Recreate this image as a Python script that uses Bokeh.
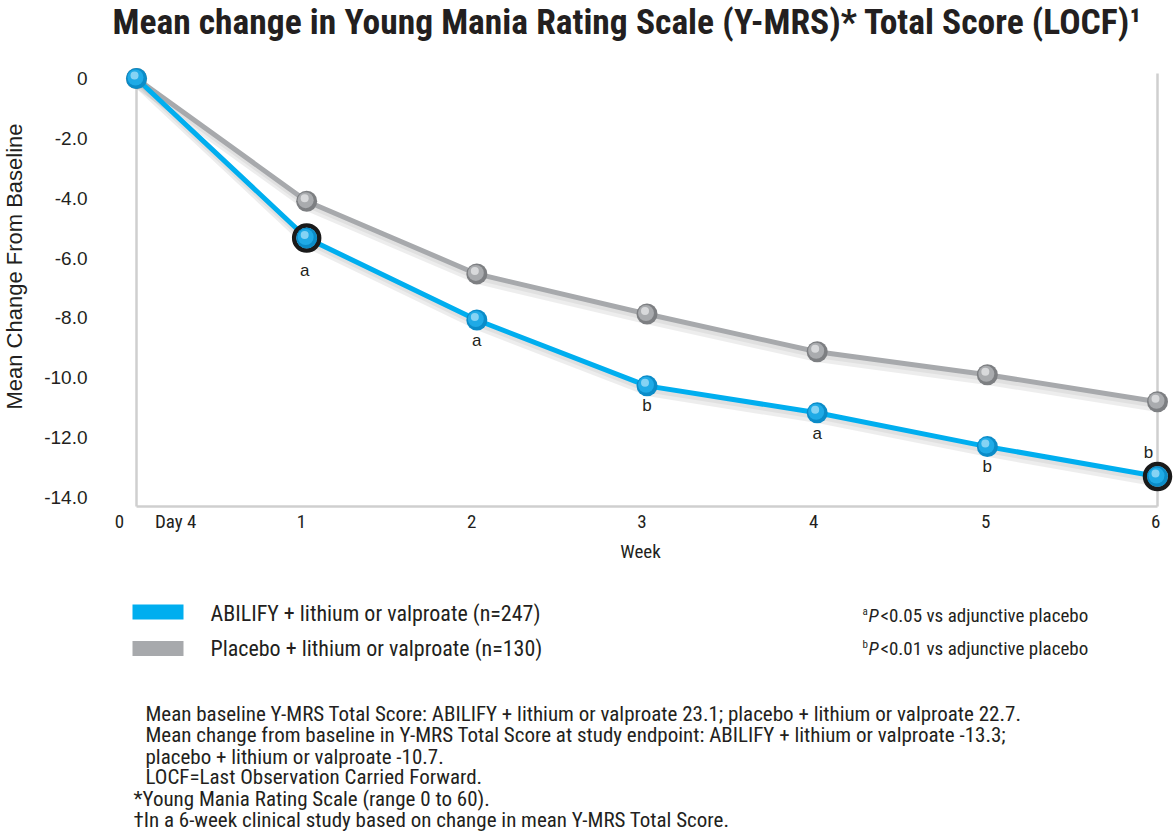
from bokeh.plotting import figure
from bokeh.models import Label
from bokeh.core.properties import value
from bokeh.embed import file_html
from bokeh.resources import INLINE

# ---- data ----
weeks = [0, 1, 2, 3, 4, 5, 6]
abilify = [0, -5.33, -8.07, -10.27, -11.17, -12.3, -13.3]
placebo = [0, -4.1, -6.53, -7.87, -9.13, -9.9, -10.8]
sig_weeks = [1, 2, 3, 4, 5, 6]
sig_letters = ["a", "a", "b", "a", "b", "b"]
ring_weeks = [1, 6]
x_tick_pos = [-0.1, 0.23, 0.97, 1.97, 2.97, 3.98, 4.99, 5.99]
x_tick_labels = ["0", "Day 4", "1", "2", "3", "4", "5", "6"]
y_ticks = [0, -2, -4, -6, -8, -10, -12, -14]
y_tick_labels = ["0", "-2.0", "-4.0", "-6.0", "-8.0", "-10.0", "-12.0", "-14.0"]
legend_names = ["ABILIFY + lithium or valproate (n=247)",
                "Placebo + lithium or valproate (n=130)"]
title_text = "Mean change in Young Mania Rating Scale (Y-MRS)* Total Score (LOCF)\u00b9"
footnotes = [
    "Mean baseline Y-MRS Total Score: ABILIFY + lithium or valproate 23.1; placebo + lithium or valproate 22.7.",
    "Mean change from baseline in Y-MRS Total Score at study endpoint: ABILIFY + lithium or valproate -13.3;",
    "placebo + lithium or valproate -10.7.",
    "LOCF=Last Observation Carried Forward.",
]
footnotes2 = [
    "*Young Mania Rating Scale (range 0 to 60).",
    "\u2020In a 6-week clinical study based on change in mean Y-MRS Total Score.",
]

BLUE = "#00AEEF"
GREY = "#A7A9AC"
TXT = "#231F20"
NARROW = "Roboto Condensed, DejaVu Sans Condensed, Roboto"
REG = "Liberation Sans"

W, H = 1175, 833
PXX = (1157 - 136) / 6.0
PXY = (497 - 78) / 14.0
X0, X1 = -136 / PXX, (W - 136) / PXX
Y1, Y0 = 78 / PXY, -(H - 78) / PXY


def px(xp):  # page x -> data x
    return X0 + xp / PXX


def py(yp):  # page y -> data y
    return Y1 - yp / PXY


p = figure(width=W, height=H, x_range=(X0, X1), y_range=(Y0, Y1),
           output_backend="svg", toolbar_location=None,
           x_axis_location=None, y_axis_location=None,
           min_border=0)
p.outline_line_color = None
p.grid.visible = False
p.background_fill_color = "white"

# frame lines
p.segment(x0=[weeks[0], weeks[0], weeks[-1]], y0=[weeks[0], py(506), py(73)],
          x1=[weeks[0], weeks[-1], weeks[-1]], y1=[py(506), py(506), py(506)],
          line_color="#CFCFCF", line_width=2.5)

# axis tick labels
p.text([px(87)] * len(y_ticks), y_ticks, text=y_tick_labels, text_align="right",
       text_baseline="middle", text_font=value(REG), text_font_size="19px", text_color=TXT)
p.text(x_tick_pos, [py(521)] * len(x_tick_pos), text=x_tick_labels, text_align="center",
       text_baseline="middle", text_font=value(NARROW), text_font_size="19px", text_color=TXT)

# shadows
sh = 6 / PXY
for ys in (placebo, abilify):
    p.line([w + 2 / PXX for w in weeks], [v - sh for v in ys], line_color="#000000",
           line_alpha=0.07, line_width=9)
    p.line([w + 1 / PXX for w in weeks], [v - sh * 0.6 for v in ys], line_color="#000000",
           line_alpha=0.05, line_width=6)

p.line(weeks, placebo, line_color=GREY, line_width=5)
p.line(weeks, abilify, line_color=BLUE, line_width=5)


def balls(ys, dark, mid, light):
    p.scatter(weeks, ys, size=21, fill_color=dark, line_color=None)
    p.scatter([w - 1 / PXX for w in weeks], [v + 1 / PXY for v in ys], size=16,
              fill_color=mid, line_color=None)
    p.scatter([w - 2 / PXX for w in weeks], [v + 3 / PXY for v in ys], size=8,
              fill_color=light, line_color=None, fill_alpha=0.8)


balls(placebo, "#7D7F82", "#A9ABAE", "#E4E5E6")
ring_y = [abilify[weeks.index(w)] for w in ring_weeks]
p.scatter(ring_weeks, ring_y, size=25, fill_color=None, line_color="#1A1A1A", line_width=4.5)
balls(abilify, "#0B8CC8", "#1FAAE6", "#9FDDF7")

# significance letters
sig_y = [abilify[weeks.index(w)] for w in sig_weeks]
yoff = [32, 20, 20, 21, 20, -24]
xoff = [-2, 0, 0, 0, 0, -9]
p.text(sig_weeks, sig_y, text=sig_letters, x_offset=xoff, y_offset=yoff,
       text_align="center", text_baseline="middle", text_font=value(REG),
       text_font_size="17px", text_color=TXT)


def lab(x, y, t, size, font=NARROW, style="normal", align="left", **kw):
    p.add_layout(Label(x=px(x), y=py(y), text=t, text_font=font, text_font_size=size,
                       text_font_style=style, text_align=align, text_baseline="middle",
                       text_color=TXT, **kw))


lab(112, 21, title_text, "35.5px", style="bold")
lab(640, 551, "Week", "19px", align="center")
p.add_layout(Label(x=px(14), y=py(266), text="Mean Change From Baseline", angle=1.5708,
                   text_font=REG, text_font_size="22px", text_align="center",
                   text_baseline="middle", text_color=TXT))

# legend
for i, (name, col) in enumerate(zip(legend_names, [BLUE, GREY])):
    yc = [py(611.5), py(648)][i]
    p.rect(x=[px(157.5)], y=[yc], width=51 / PXX, height=15 / PXY, fill_color=col,
           line_color=None)
    lab(210, [613, 648][i], name, "22px")

# p-value notes
for i, (s, t) in enumerate(zip(["a", "b"], ["<0.05 vs adjunctive placebo", "<0.01 vs adjunctive placebo"])):
    yy = [615, 648][i]
    lab(862, yy - 4, s, "11px")
    lab(868, yy, "P", "19px", style="italic")
    lab(880, yy, t, "19px")

for i, t in enumerate(footnotes):
    lab(145, [713, 734, 756, 776][i], t, "21px")
for i, t in enumerate(footnotes2):
    lab(133, [798, 819][i], t, "21px")

open("out.html", "w").write(file_html(p, INLINE))
